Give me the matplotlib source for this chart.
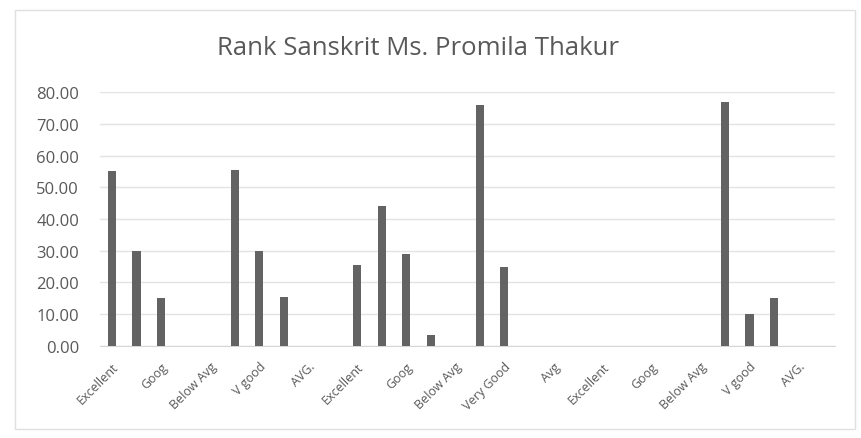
import numpy as np
import matplotlib
matplotlib.use("Agg")
import matplotlib.pyplot as plt
from matplotlib.patches import Rectangle

# five grades repeated over six groups; Excel shows every second label
categories = (
    ["Excellent", "V good", "Goog", "AVG.", "Below Avg"]
    + ["Excellent", "V good", "Goog", "AVG.", "Below Avg"]
    + ["Excellent", "V good", "Goog", "Avg", "Below Avg"]
    + ["Excellent", "Very Good", "Goog", "Avg", "Below Avg"]
    + ["Excellent", "V good", "Goog", "Avg", "Below Avg"]
    + ["Excellent", "V good", "Goog", "AVG.", "Below Avg"]
)
values = [
    55, 30, 15, np.nan, np.nan,
    55.5, 30, 15.5, np.nan, np.nan,
    25.5, 44, 29, 3.5, np.nan,
    76, 25, np.nan, np.nan, np.nan,
    np.nan, np.nan, np.nan, np.nan, np.nan,
    77, 10, 15, np.nan, np.nan,
]
title = "Rank Sanskrit Ms. Promila Thakur"

plt.rcParams["font.family"] = ["Open Sans", "DejaVu Sans"]
text_col = "#595959"

fig = plt.figure(figsize=(8.61, 4.39), dpi=100)
fig.patches.append(Rectangle((0.018, 0.02), 0.975, 0.955, transform=fig.transFigure,
                             fill=False, edgecolor="#e0e0e0", linewidth=1))
ax = fig.add_axes([0.116, 0.21, 0.854, 0.578])

x = np.arange(len(categories))
ax.bar(x, values, width=0.34, color="#636363", zorder=3)

ax.set_xlim(-0.5, len(categories) - 0.5)
ax.set_ylim(0, 80)
ax.set_yticks(np.arange(0, 81, 10))
ax.set_yticklabels([f"{v:.2f}" for v in np.arange(0, 81, 10)])
ax.yaxis.grid(True, color="#e3e3e3", linewidth=1, zorder=0)

ax.set_xticks(x[::2])
ax.set_xticklabels(categories[::2], rotation=45, ha="right", va="top",
                   rotation_mode="anchor")
ax.tick_params(axis="both", length=0, colors=text_col)
ax.tick_params(axis="y", pad=15, labelsize=12)
ax.tick_params(axis="x", pad=10, labelsize=9)

for side in ["top", "right", "left"]:
    ax.spines[side].set_visible(False)
ax.spines["bottom"].set_color("#d6d6d6")

fig.text(0.485, 0.89, title, ha="center", va="center", fontsize=18.5, color=text_col)

fig.savefig("out.png", dpi=100)
